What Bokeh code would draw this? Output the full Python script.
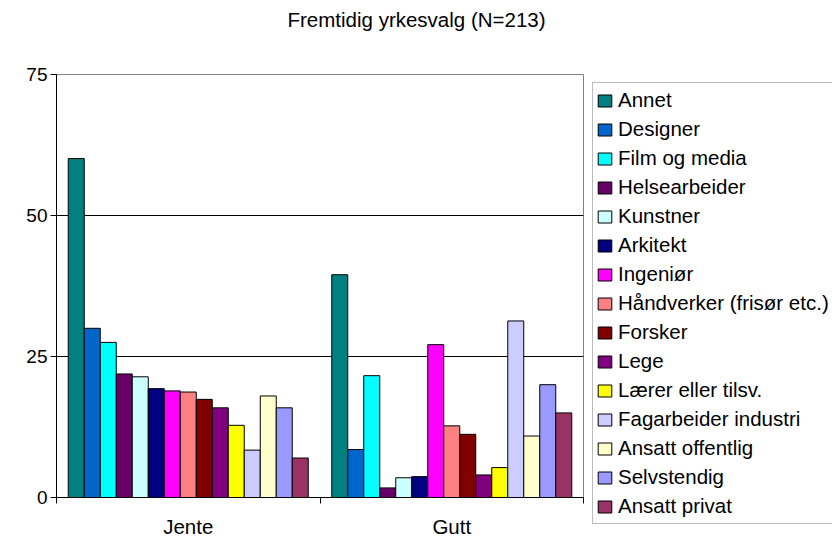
from bokeh.plotting import figure
from bokeh.models import (ColumnDataSource, Range1d, FixedTicker, Legend, LegendItem, Title)
from bokeh.transform import dodge
from bokeh.embed import file_html
from bokeh.resources import INLINE

# ---- data ----
title_text = "Fremtidig yrkesvalg (N=213)"
groups = ["Jente", "Gutt"]
series = ["Annet", "Designer", "Film og media", "Helsearbeider", "Kunstner", "Arkitekt",
          "Ingeniør", "Håndverker (frisør etc.)", "Forsker", "Lege", "Lærer eller tilsv.",
          "Fagarbeider industri", "Ansatt offentlig", "Selvstendig", "Ansatt privat"]
jente = [60.1, 30.0, 27.5, 21.9, 21.4, 19.3, 18.9, 18.7, 17.4, 15.9, 12.8, 8.4, 18.0, 15.9, 7.0]
gutt = [39.5, 8.5, 21.6, 1.7, 3.5, 3.7, 27.1, 12.7, 11.2, 4.0, 5.3, 31.3, 10.9, 20.0, 15.0]
colors = ["#008080", "#0066CC", "#00FFFF", "#660066", "#CCFFFF", "#000080", "#FF00FF",
          "#FF8080", "#800000", "#800080", "#FFFF00", "#CCCCFF", "#FFFFCC", "#9999FF", "#993366"]
y_ticks = [0, 25, 50, 75]

FONT = "Liberation Sans"

p = figure(frame_width=527, frame_height=423, output_backend="svg", toolbar_location=None,
           x_range=Range1d(0, len(groups)), y_range=Range1d(0, 75),
           min_border_left=56, min_border_right=249, min_border_top=74, min_border_bottom=41)
p.background_fill_color = "white"
p.border_fill_color = "white"
p.outline_line_color = "#808080"
p.outline_line_width = 1

# real title (outermost) and a spacer title between it and the frame
p.title.text = title_text
p.title.align = "left"
p.title.offset = 231
p.title.text_font = FONT
p.title.text_font_size = "20.5px"
p.title.text_font_style = "normal"
p.title.text_color = "#000000"
spacer = Title(text=" ", text_font_size="1px", standoff=36)
p.add_layout(spacer, "above")

data = {"gx": [i + 0.5 for i in range(len(groups))]}
for i, s in enumerate(series):
    data[f"s{i}"] = [jente[i], gutt[i]]
src = ColumnDataSource(data)

bw = 16 / 263.5
items = []
n = len(series)
for i, s in enumerate(series):
    off = (i - (n - 1) / 2) * bw
    r = p.vbar(x=dodge("gx", off, range=p.x_range), top=f"s{i}", width=bw, source=src,
               fill_color=colors[i], line_color="#000000", line_width=1)
    items.append(LegendItem(label=s, renderers=[r]))

# axes
p.xgrid.visible = False
p.ygrid.ticker = FixedTicker(ticks=y_ticks)
p.ygrid.grid_line_color = "#000000"
p.ygrid.grid_line_width = 1

ya = p.yaxis[0]
ya.ticker = FixedTicker(ticks=y_ticks)
ya.axis_line_color = "#000000"
ya.major_tick_out = 6
ya.major_tick_in = 0
ya.minor_tick_out = 0
ya.minor_tick_in = 0
ya.major_tick_line_color = "#000000"
ya.major_label_standoff = 3
ya.major_label_text_font = FONT
ya.major_label_text_font_size = "19px"
ya.major_label_text_color = "#000000"

xa = p.xaxis[0]
centers = [i + 0.5 for i in range(len(groups))]
xa.ticker = FixedTicker(ticks=centers, minor_ticks=list(range(len(groups) + 1)))
xa.major_label_overrides = {c: g for c, g in zip(centers, groups)}
xa.axis_line_color = "#000000"
xa.major_tick_out = 0
xa.major_tick_in = 0
xa.minor_tick_out = 6
xa.minor_tick_in = 0
xa.minor_tick_line_color = "#000000"
xa.major_label_standoff = 11
xa.major_label_text_font = FONT
xa.major_label_text_font_size = "20.5px"
xa.major_label_text_color = "#000000"

legend = Legend(items=items, location=(9, -27))
legend.label_text_font = FONT
legend.label_text_font_size = "20.5px"
legend.label_text_color = "#000000"
legend.label_height = 28
legend.glyph_height = 15
legend.glyph_width = 17
legend.spacing = 1
legend.padding = 3
legend.margin = 0
legend.label_standoff = 5
legend.border_line_color = "#777777"
legend.border_line_width = 1
legend.background_fill_color = "white"
legend.background_fill_alpha = 1
p.add_layout(legend, "right")

open("out.html", "w").write(file_html(p, INLINE))
